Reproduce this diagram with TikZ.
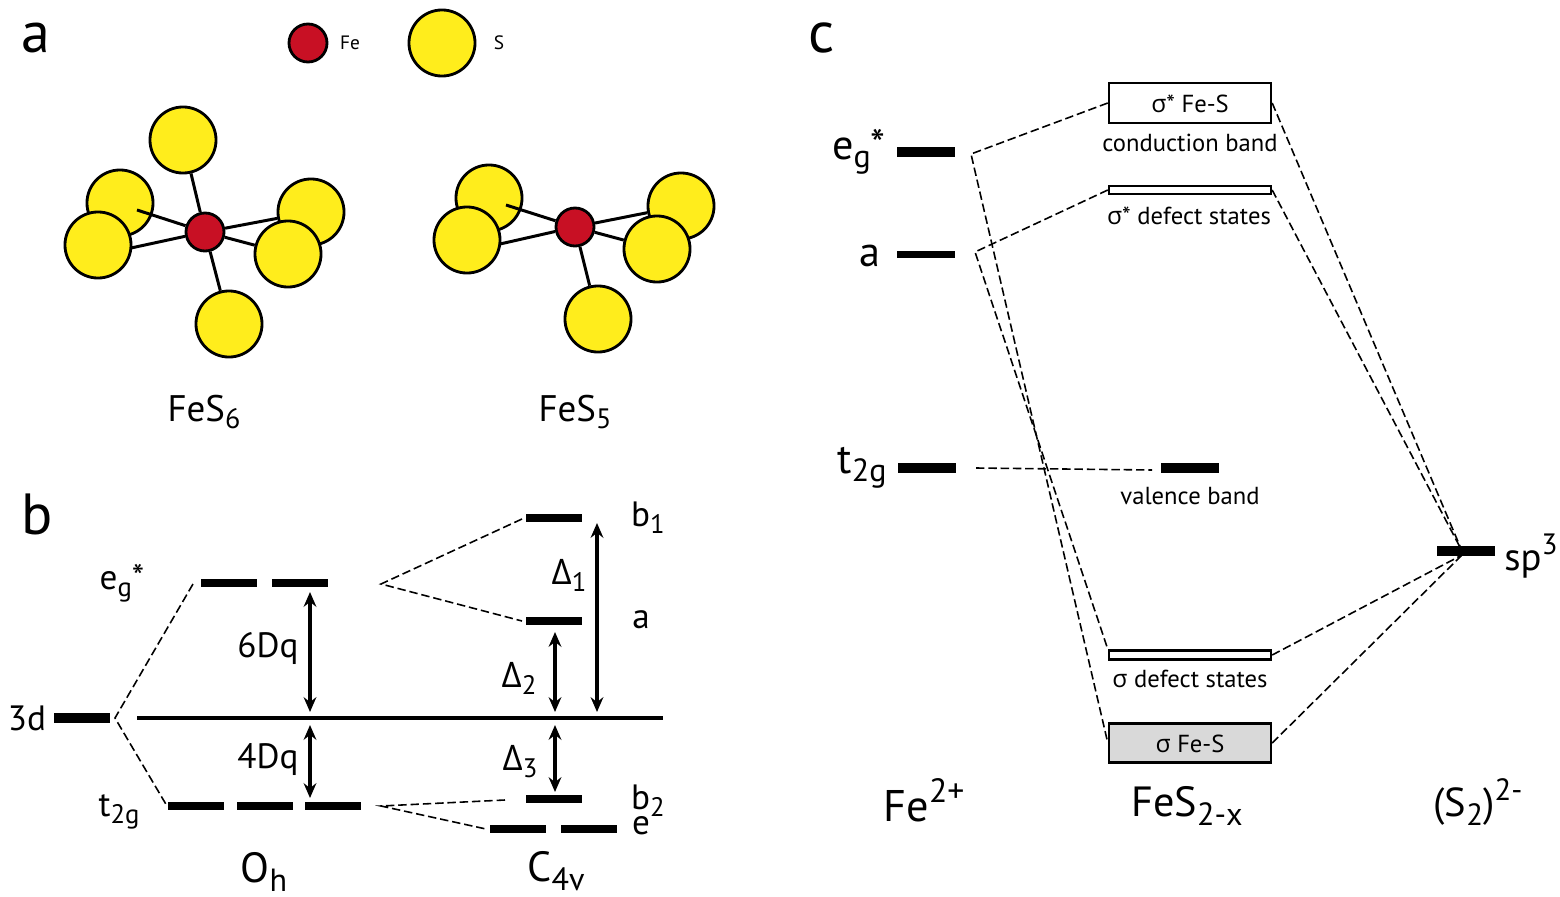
\documentclass[tikz,border=0pt]{standalone}
\usepackage{fontspec}
\setmainfont{PT Sans}
\newfontfamily\greekfont{Open Sans}
\usetikzlibrary{arrows.meta}
\definecolor{ironred}{RGB}{200,16,36}
\definecolor{sulfuryellow}{RGB}{255,237,28}
\definecolor{bandgray}{RGB}{217,217,217}
\newcommand{\lowered}[1]{\raisebox{-0.2em}{\scalebox{0.76}{#1}}}
\newcommand{\raised}[1]{\raisebox{0.42em}{\scalebox{0.76}{#1}}}
\newcommand{\sig}{{\greekfont σ}}
\newcommand{\Dlt}{{\greekfont Δ}}
\tikzset{
    sulfur/.style={circle, draw=black, fill=sulfuryellow, line width=0.8pt, minimum size=0.66cm, inner sep=0},
    iron/.style={circle, draw=black, fill=ironred, line width=0.8pt, minimum size=0.38cm, inner sep=0},
    bond/.style={line width=0.85pt},
    level/.style={fill=black, inner sep=0, minimum width=0.55cm, minimum height=0.08cm},
    linker/.style={dashed, dash pattern=on 2.4pt off 1.1pt, line width=0.45pt},
    split/.style={<->, line width=0.9pt},
    band/.style={draw=black, fill=white, line width=0.65pt, inner sep=0, minimum width=1.62cm},
    panel/.style={font=\fontsize{16.5}{16}\selectfont, inner sep=0},
    big/.style={font=\fontsize{12}{14}\selectfont, inner sep=0},
    mid/.style={font=\fontsize{10}{12}\selectfont, inner sep=0},
    small/.style={font=\fontsize{7}{9}\selectfont, inner sep=0},
    tiny/.style={font=\fontsize{5.5}{7}\selectfont, inner sep=0}
}
\begin{document}
\begin{tikzpicture}[x=0.01cm, y=-0.01cm, >={Stealth[length=4.2pt, width=3.6pt]}]
    \useasboundingbox (0,0) rectangle (1560,897);

    % Panel letters
    \node[panel] (panelA) at (36,38) {a};
    \node[panel] (panelB) at (37,514) {b};
    \node[panel] (panelC) at (822,38) {c};

    % Legend
    \node[iron] (legendFe) at (308,43) {};
    \node[tiny] (legendFeText) at (350,43) {Fe};
    \node[sulfur] (legendS) at (442,43) {};
    \node[tiny] (legendSText) at (499,43) {S};

    % FeS6 cluster
    \node[sulfur] (sixTop) at (183,140) {};
    \node[sulfur] (sixBackL) at (120,203) {};
    \node[sulfur] (sixFrontL) at (98,245) {};
    \node[sulfur] (sixBackR) at (311,212) {};
    \node[sulfur] (sixFrontR) at (288,254) {};
    \node[sulfur] (sixBottom) at (229,324) {};
    \node[iron] (sixFe) at (205,232) {};
    \coordinate (sixInner) at (137,210);
    \coordinate (sixOuter) at (131,248);
    \draw[bond] (sixFe) -- (sixTop);
    \draw[bond] (sixFe) -- (sixInner);
    \draw[bond] (sixFe) -- (sixOuter);
    \draw[bond] (sixFe) -- (sixBackR);
    \draw[bond] (sixFe) -- (sixFrontR);
    \draw[bond] (sixFe) -- (sixBottom);
    \node[mid, font=\fontsize{10.5}{12}\selectfont] (sixName) at (204,412) {FeS\lowered{6}};

    % FeS5 cluster
    \node[sulfur] (fiveBackL) at (489,198) {};
    \node[sulfur] (fiveFrontL) at (467,240) {};
    \node[sulfur] (fiveBackR) at (681,206) {};
    \node[sulfur] (fiveFrontR) at (657,249) {};
    \node[sulfur] (fiveBottom) at (598,319) {};
    \node[iron] (fiveFe) at (575,227) {};
    \coordinate (fiveInner) at (506,205);
    \coordinate (fiveOuter) at (500,244);
    \draw[bond] (fiveFe) -- (fiveInner);
    \draw[bond] (fiveFe) -- (fiveOuter);
    \draw[bond] (fiveFe) -- (fiveBackR);
    \draw[bond] (fiveFe) -- (fiveFrontR);
    \draw[bond] (fiveFe) -- (fiveBottom);
    \node[mid, font=\fontsize{10.5}{12}\selectfont] (fiveName) at (575,412) {FeS\lowered{5}};

    % Panel b: levels
    \node[level, minimum height=0.1cm] (threeD) at (82,718) {};
    \node[level] (egOne) at (229,583) {};
    \node[level] (egTwo) at (300,583) {};
    \node[level] (tOne) at (196,806) {};
    \node[level] (tTwo) at (265,806) {};
    \node[level] (tThree) at (333,806) {};
    \node[level] (bOne) at (554,518) {};
    \node[level] (aOne) at (554,621) {};
    \node[level] (bTwo) at (554,799) {};
    \node[level] (eOne) at (518,829) {};
    \node[level] (eTwo) at (589,829) {};
    \coordinate (baseL) at (137,718);
    \coordinate (baseR) at (663,718);
    \draw[line width=0.95pt] (baseL) -- (baseR);

    % Panel b: dashed fans
    \coordinate (fanD) at (115,718);
    \coordinate (fanEgIn) at (193,584);
    \coordinate (fanTIn) at (167,806);
    \coordinate (fanEg) at (381,584);
    \coordinate (fanBOne) at (522,519);
    \coordinate (fanA) at (522,621);
    \coordinate (fanT) at (381,806);
    \coordinate (fanBTwo) at (505,800);
    \coordinate (fanE) at (486,829);
    \draw[linker] (fanEgIn) -- (fanD) -- (fanTIn);
    \draw[linker] (fanBOne) -- (fanEg) -- (fanA);
    \draw[linker] (fanBTwo) -- (fanT) -- (fanE);

    % Panel b: splittings
    \coordinate (sixTip) at (310,592);
    \coordinate (sixBase) at (310,712);
    \coordinate (fourBase) at (310,725);
    \coordinate (fourTip) at (310,798);
    \coordinate (twoTip) at (555,632);
    \coordinate (twoBase) at (555,712);
    \coordinate (threeBase) at (555,725);
    \coordinate (threeTip) at (555,792);
    \coordinate (oneTip) at (597,523);
    \coordinate (oneBase) at (597,712);
    \draw[split] (sixTip) -- (sixBase);
    \draw[split] (fourBase) -- (fourTip);
    \draw[split] (twoTip) -- (twoBase);
    \draw[split] (threeBase) -- (threeTip);
    \draw[split] (oneTip) -- (oneBase);

    % Panel b: labels
    \node[mid] (threeDText) at (27,718) {3d};
    \node[mid] (egText) at (122,583) {e\lowered{g}*};
    \node[mid] (tText) at (119,812) {t\lowered{2g}};
    \node[mid] (sixDq) at (268,648) {6Dq};
    \node[mid] (fourDq) at (268,760) {4Dq};
    \node[mid] (deltaOne) at (569,575) {\Dlt\lowered{1}};
    \node[mid] (deltaTwo) at (519,678) {\Dlt\lowered{2}};
    \node[mid] (deltaThree) at (520,762) {\Dlt\lowered{3}};
    \node[mid] (bOneText) at (648,518) {b\lowered{1}};
    \node[mid] (aText) at (641,620) {a};
    \node[mid] (bTwoText) at (648,801) {b\lowered{2}};
    \node[mid] (eText) at (641,826) {e};
    \node[big] (ohText) at (264,872) {O\lowered{h}};
    \node[big] (cfourText) at (556,871) {C\lowered{4v}};

    % Panel c: levels
    \node[level, minimum width=0.57cm, minimum height=0.1cm] (egBar) at (926,152) {};
    \node[level, minimum width=0.57cm, minimum height=0.07cm] (aBar) at (926,254) {};
    \node[level, minimum width=0.57cm, minimum height=0.1cm] (tBar) at (927,468) {};
    \node[level, minimum width=0.57cm, minimum height=0.1cm] (valBar) at (1190,468) {};
    \node[level, minimum width=0.57cm, minimum height=0.1cm] (spBar) at (1466,551) {};

    % Panel c: bands
    \node[band, minimum height=0.4cm] (condBox) at (1190,103) {};
    \node[band, minimum height=0.08cm] (starBox) at (1190,190) {};
    \node[band, minimum height=0.09cm] (sigBox) at (1190,655) {};
    \node[band, fill=bandgray, minimum height=0.39cm] (bondBox) at (1190,743) {};

    % Panel c: dashed links
    \coordinate (egTurn) at (971,154);
    \coordinate (aTurn) at (975,252);
    \coordinate (tStart) at (976,468);
    \coordinate (tEnd) at (1152,470);
    \coordinate (spJoin) at (1462,551);
    \coordinate (spLow) at (1462,555);
    \draw[linker] (condBox.west) -- (egTurn) -- (bondBox.west);
    \draw[linker] (starBox.west) -- (aTurn) -- (sigBox.north west);
    \draw[linker] (tStart) -- (tEnd);
    \draw[linker] (condBox.east) -- (spJoin);
    \draw[linker] (starBox.east) -- (spJoin);
    \draw[linker] (sigBox.east) -- (spLow);
    \draw[linker] (bondBox.east) -- (spLow);

    % Panel c: labels
    \node[big] (egName) at (859,152) {e\lowered{g}*};
    \node[big] (aName) at (870,256) {a};
    \node[big] (tName) at (862,468) {t\lowered{2g}};
    \node[small] (condInner) at (1190,104) {\sig* Fe-S};
    \node[small] (condName) at (1190,143) {conduction band};
    \node[small] (starName) at (1189,216) {\sig* defect states};
    \node[small] (valName) at (1190,496) {valence band};
    \node[small] (sigName) at (1190,679) {\sig{} defect states};
    \node[small] (bondInner) at (1190,744) {\sig{} Fe-S};
    \node[big, font=\fontsize{12.6}{14}\selectfont] (feName) at (924,800) {Fe\raised{2+}};
    \node[big] (fesName) at (1187,806) {FeS\lowered{2-x}};
    \node[big, font=\fontsize{11.5}{13}\selectfont] (sTwoName) at (1478,802) {(S\lowered{2})\raised{2-}};
    \node[big, font=\fontsize{11}{13}\selectfont] (spName) at (1531,556) {sp\raised{3}};
\end{tikzpicture}
\end{document}
